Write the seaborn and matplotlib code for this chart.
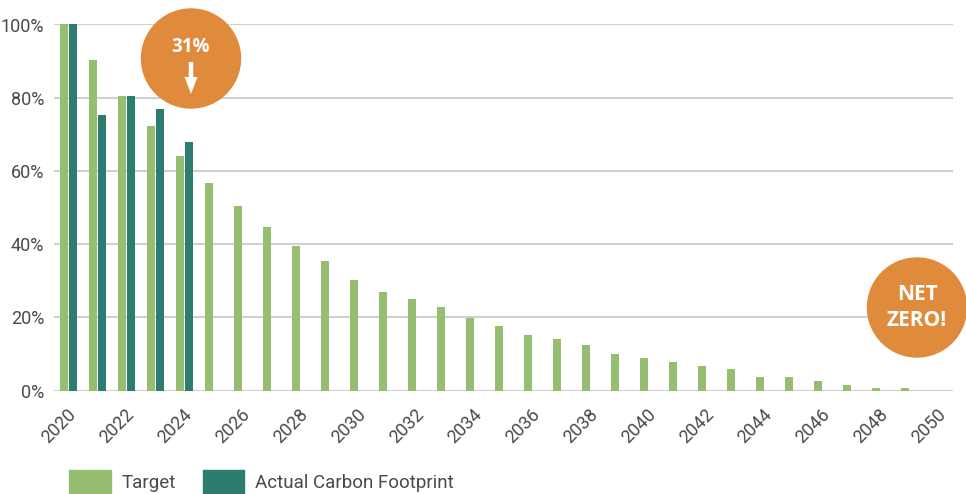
import numpy as np
import pandas as pd
import matplotlib.pyplot as plt
import matplotlib.patches as mpatches
import matplotlib.transforms as mtransforms
import seaborn as sns

# --- Data (percent of 2020 baseline) ---
years = list(range(2020, 2051))
target = [100, 90.2, 80.6, 72.4, 64.0, 56.6, 50.3, 44.8, 39.6, 35.5,
          30.1, 27.0, 24.9, 22.7, 19.7, 17.5, 15.3, 14.2, 12.3, 10.1,
          9.0, 7.9, 6.8, 6.0, 3.8, 3.8, 2.7, 1.6, 0.8, 0.8, 0.0]
actual = [100, 75.4, 80.6, 76.8, 67.8] + [np.nan] * 26
series_names = ["Target", "Actual Carbon Footprint"]
tick_years = [str(y) for y in years[::2]]

df = pd.DataFrame({
    "Year": [str(y) for y in years] * 2,
    "Value": target + actual,
    "Series": [series_names[0]] * len(years) + [series_names[1]] * len(years),
})

green = "#96BE70"
teal = "#2C7D70"
orange = "#E08A3C"
text_grey = "#4a4a4a"

sns.set_theme(style="white")
plt.rcParams["font.family"] = ["Roboto", "DejaVu Sans"]

fig = plt.figure(figsize=(9.66, 4.94), dpi=100)
ax = fig.add_axes([54 / 966, 1 - 390.5 / 494, 899 / 966, 366 / 494])

sns.barplot(data=df, x="Year", y="Value", hue="Series", palette=[green, teal],
            width=0.62, gap=0.08, dodge=True, saturation=1, linewidth=0,
            ax=ax, legend=False, zorder=3)

ax.set_ylim(0, 100)
ax.set_xlim(-0.5, len(years) - 0.5)
ax.set_yticks([0, 20, 40, 60, 80, 100])
ax.set_yticklabels([f"{v}%" for v in [0, 20, 40, 60, 80, 100]])
ax.set_xticks(range(0, len(years), 2))
ax.set_xticklabels(tick_years, rotation=45, ha="right", va="center", rotation_mode="anchor")
ax.tick_params(axis="both", length=0, labelsize=13, colors=text_grey)
ax.tick_params(axis="x", pad=15)
ax.tick_params(axis="y", pad=7)
ax.set_xlabel("")
ax.set_ylabel("")
ax.grid(axis="y", color="#d0d0d0", linewidth=1.5, zorder=0)
ax.set_axisbelow(True)
for s in ax.spines.values():
    s.set_visible(False)

# shift x tick labels a little right so they end under the tick
offset = mtransforms.ScaledTranslation(5 / 100, 0, fig.dpi_scale_trans)
for lbl in ax.get_xticklabels():
    lbl.set_transform(lbl.get_transform() + offset)

# --- Legend ---
handles = [mpatches.Patch(color=green), mpatches.Patch(color=teal)]
fig.legend(handles, series_names, loc="lower left", bbox_to_anchor=(60 / 966, -0.018),
           frameon=False, fontsize=13.5, handlelength=2.2, handleheight=1.55,
           handletextpad=0.6, columnspacing=1.4, ncol=2, borderpad=0,
           labelcolor=text_grey)

# --- Callout circles ---
def circle(cx, cy, r):
    e = mpatches.Ellipse((cx / 966, 1 - cy / 494), 2 * r / 966, 2 * r / 494,
                         transform=fig.transFigure, color=orange, zorder=10)
    fig.add_artist(e)

badge_font = ["Open Sans", "DejaVu Sans"]
circle(191, 58.5, 49.5)
fig.text(191 / 966, 1 - 47 / 494, "31%", color="white", fontsize=13.5, fontweight="bold",
         family=badge_font, ha="center", va="center", zorder=11)
fig.add_artist(mpatches.FancyArrow(191 / 966, 1 - 62 / 494, 0, -32 / 494,
                                   width=4.5 / 966, head_width=13 / 966, head_length=17 / 494,
                                   length_includes_head=True, transform=fig.transFigure,
                                   color="white", lw=0, zorder=11))

circle(917, 307.5, 49.5)
fig.text(917 / 966, 1 - 294 / 494, "NET", color="white", fontsize=15, fontweight="bold",
         family=badge_font, ha="center", va="center", zorder=11)
fig.text(917 / 966, 1 - 321 / 494, "ZERO!", color="white", fontsize=15, fontweight="bold",
         family=badge_font, ha="center", va="center", zorder=11)

fig.savefig("out.png", dpi=100)
